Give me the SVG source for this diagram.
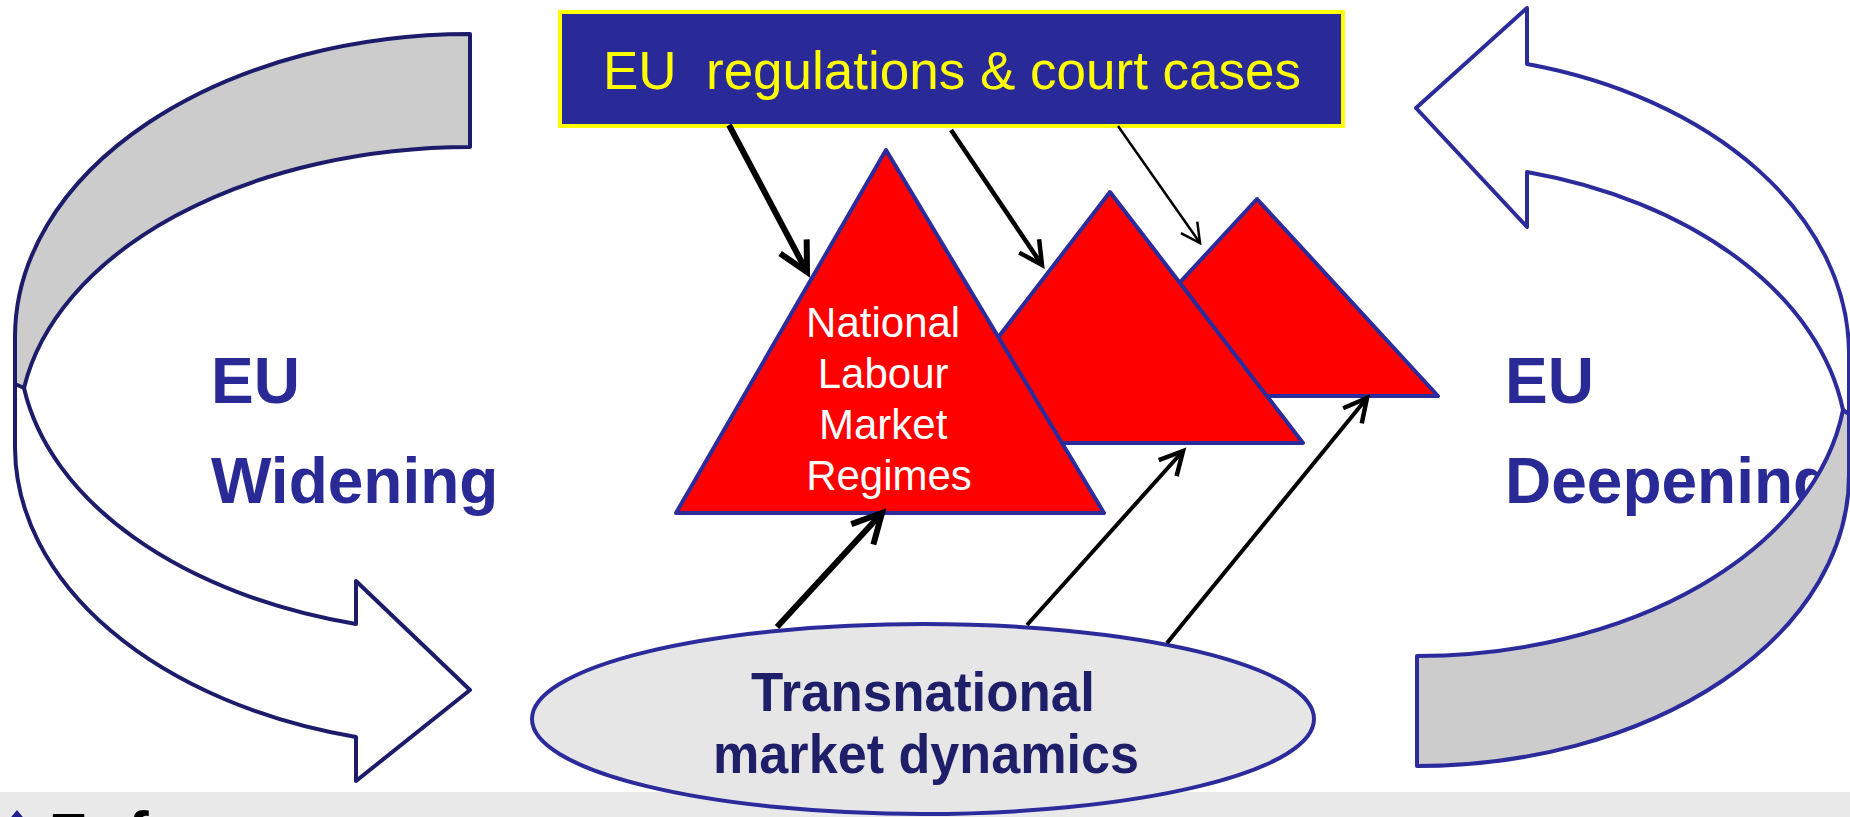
<svg xmlns="http://www.w3.org/2000/svg" width="1850" height="817" viewBox="0 0 1850 817">
  <defs>
    <style>
      .sans { font-family: "Liberation Sans", Arial, sans-serif; }
      .label { font-family: "Liberation Sans", Arial, sans-serif; font-weight: bold; font-size: 64px; fill: #2A2A96; }
      .tri { fill: #FF0000; stroke: #2B2B9B; stroke-width: 4; stroke-linejoin: round; }
      .arrowL { stroke: #1C1C6B; stroke-width: 4; stroke-linejoin: round; }
      .arrowR { stroke: #2B2B9B; stroke-width: 4; stroke-linejoin: round; }
      .band { fill: #CCCCCC; }
      .face { fill: #FFFFFF; }
      .link { stroke: #000000; fill: none; }
    </style>
    <!-- open V heads, sized per line weight -->
    <marker id="headL" markerUnits="userSpaceOnUse" orient="auto" refX="0" refY="0" markerWidth="1" markerHeight="1" style="overflow:visible">
      <path d="M-29,-15 L0,0 L-29,15" fill="none" stroke="#000" stroke-width="6"/>
    </marker>
    <marker id="headM" markerUnits="userSpaceOnUse" orient="auto" refX="0" refY="0" markerWidth="1" markerHeight="1" style="overflow:visible">
      <path d="M-23,-12 L0,0 L-23,12" fill="none" stroke="#000" stroke-width="4.5"/>
    </marker>
    <marker id="headS" markerUnits="userSpaceOnUse" orient="auto" refX="0" refY="0" markerWidth="1" markerHeight="1" style="overflow:visible">
      <path d="M-19,-10 L0,0 L-19,10" fill="none" stroke="#000" stroke-width="2.5"/>
    </marker>
  </defs>

  <rect x="0" y="0" width="1850" height="817" fill="#FFFFFF"/>

  <!-- strip at the foot of the page -->
  <g id="footer">
    <rect x="0" y="792" width="1850" height="25" fill="#E9E9E9"/>
    <polygon points="17,810 27,822 17,834 7,822" fill="#1F1F8F"/>
    <text class="sans" x="49" y="854" font-size="58" font-weight="bold" fill="#000">E</text>
    <text class="sans" x="128" y="854" font-size="62" font-weight="bold" fill="#000">f</text>
  </g>

  <!-- left curved arrow: widening -->
  <g id="widening-arrow">
    <path class="arrowL face" d="M15,337 L15,448 A455,300 0 0 0 356,737 L356,781 L470,690 L356,581 L356,624 A452,287 0 0 1 24,388"/>
    <path class="arrowL band" d="M470,34 A455,303 0 0 0 15,337 L15,384 L24,388 A452,283 0 0 1 470,147 Z"/>
  </g>
  <g id="widening-label">
    <text class="label" x="211" y="403">EU</text>
    <text class="label" x="211" y="503">Widening</text>
  </g>

  <g id="deepening-label">
    <text class="label" x="1505" y="403">EU</text>
    <text class="label" x="1505" y="503">Deepening</text>
  </g>

  <!-- right curved arrow: deepening -->
  <g id="deepening-arrow">
    <path class="arrowR face" d="M1849,475 L1849,352 A432,300 0 0 0 1527,64 L1527,8 L1416,108 L1527,227 L1527,172 A430,287 0 0 1 1843,410"/>
    <path class="arrowR band" d="M1417,766 A432,291 0 0 0 1849,475 L1849,414 L1843,410 A430,283 0 0 1 1417,656 Z"/>
  </g>

  <!-- top box -->
  <g id="eu-regulations">
    <rect x="560" y="12" width="783" height="114" fill="#292997" stroke="#FFFF00" stroke-width="4"/>
    <text class="sans" x="952" y="89" font-size="53" fill="#FFFF00" text-anchor="middle" xml:space="preserve">EU  regulations &amp; court cases</text>
  </g>

  <!-- stacked national regimes -->
  <g id="regime-3">
    <polygon class="tri" points="1257,199 1438,396 1075,396"/>
  </g>
  <g id="regime-2">
    <polygon class="tri" points="1110,192 1303,443 917,443"/>
  </g>
  <g id="regime-1">
    <polygon class="tri" points="886,150 1104,513 676,513"/>
    <text class="sans" font-size="42" fill="#FFFFFF" text-anchor="middle">
      <tspan x="889" y="337">National</tspan>
      <tspan x="889" y="388">Labour</tspan>
      <tspan x="889" y="439">Market</tspan>
      <tspan x="889" y="490">Regimes</tspan>
    </text>
  </g>

  <!-- bottom ellipse -->
  <g id="market-dynamics">
    <ellipse cx="923" cy="719" rx="391" ry="95" fill="#E6E6E6" stroke="#2B2B9B" stroke-width="4"/>
    <text class="sans" x="923" y="711" font-size="56" font-weight="bold" fill="#1E1E69" text-anchor="middle" textLength="344" lengthAdjust="spacingAndGlyphs">Transnational</text>
    <text class="sans" x="926" y="773" font-size="56" font-weight="bold" fill="#1E1E69" text-anchor="middle" textLength="426" lengthAdjust="spacingAndGlyphs">market dynamics</text>
  </g>

  <!-- influence arrows -->
  <g id="connectors">
    <line class="link" x1="729" y1="125" x2="807" y2="272" stroke-width="6" marker-end="url(#headL)"/>
    <line class="link" x1="951" y1="130" x2="1042" y2="265" stroke-width="4.5" marker-end="url(#headM)"/>
    <line class="link" x1="1118" y1="126" x2="1200" y2="243" stroke-width="2.5" marker-end="url(#headS)"/>
    <line class="link" x1="777" y1="627" x2="882" y2="513" stroke-width="6" marker-end="url(#headL)"/>
    <line class="link" x1="1027" y1="625" x2="1183" y2="451" stroke-width="4" marker-end="url(#headM)"/>
    <line class="link" x1="1167" y1="643" x2="1367" y2="398" stroke-width="4" marker-end="url(#headM)"/>
  </g>
</svg>
